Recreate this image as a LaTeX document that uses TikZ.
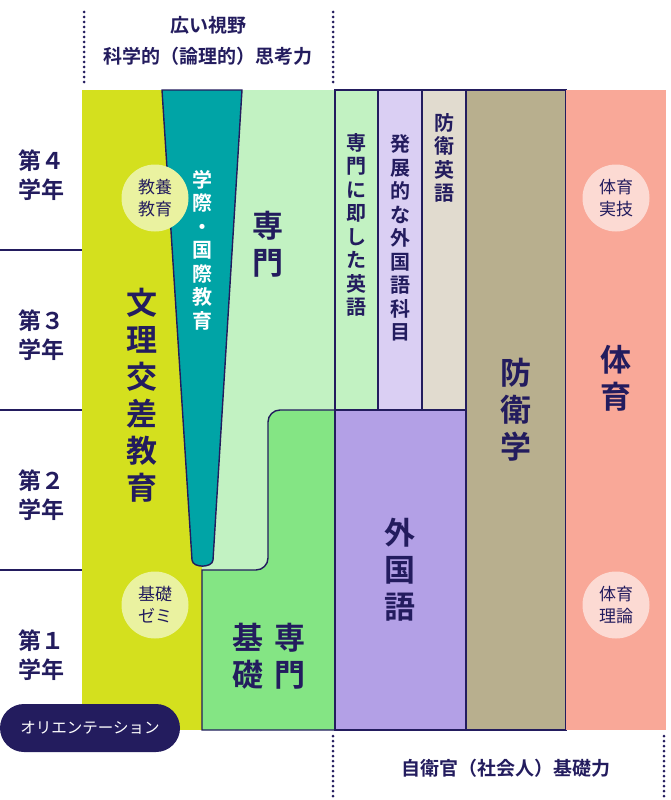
\documentclass[tikz,border=0pt]{standalone}
\usepackage{fontspec}
\setmainfont{Noto Sans CJK JP}[BoldFont={Noto Sans CJK JP Bold}]
\usetikzlibrary{positioning}
\definecolor{navy}{HTML}{231C5E}
\definecolor{lime}{HTML}{D4E01E}
\definecolor{limepale}{HTML}{EAF2A0}
\definecolor{teal}{HTML}{00A4A6}
\definecolor{mint}{HTML}{C2F2C2}
\definecolor{grass}{HTML}{84E584}
\definecolor{lav}{HTML}{DACFF3}
\definecolor{beige}{HTML}{E1DBCF}
\definecolor{violet}{HTML}{B3A0E6}
\definecolor{khaki}{HTML}{B8AF8E}
\definecolor{salmon}{HTML}{F9A898}
\definecolor{pinkpale}{HTML}{FCDAD3}
\begin{document}
\begin{tikzpicture}[x=1pt, y=-1pt,
    line/.style={draw=navy, line width=1.4pt},
    lbl/.style={text=navy, font=\bfseries, align=center, inner sep=0pt},
    big/.style={lbl, font=\fontsize{31}{37}\selectfont\bfseries},
    mid/.style={lbl, font=\fontsize{20}{23.5}\selectfont\bfseries},
    year/.style={lbl, font=\fontsize{23}{29}\selectfont\bfseries},
    badge/.style={circle, minimum size=67pt, inner sep=0pt, text=navy,
        align=center, font=\fontsize{17}{22}\selectfont},
    dots/.style={navy, line width=3pt, line cap=round, dash pattern=on 0pt off 5pt}
]
\useasboundingbox (0,0) rectangle (670,800);

% year rows
\foreach \y in {250,410,570} \draw[line] (0,\y) -- (82,\y);
\node[year] (y4) at (41,175) {第４\\学年};
\node[year] (y3) at (41,335) {第３\\学年};
\node[year] (y2) at (41,495) {第２\\学年};
\node[year] (y1) at (41,655) {第１\\学年};

% left block
\fill[lime] (82,90) rectangle (202,730);
\fill[mint] (202,90) rectangle (335,570);
\filldraw[fill=grass, line] (202,730) -- (202,570) [rounded corners=12] -- (268,570)
    -- (268,410) [sharp corners] -- (335,410) -- (335,730) -- cycle;
\filldraw[fill=teal, line] (162,90) -- (242,90) -- (213,560)
    to[out=-95,in=-85] (192,560) -- cycle;

% columns
\filldraw[fill=mint, line] (335,90) rectangle (378,410);
\filldraw[fill=lav, line] (378,90) rectangle (422,410);
\filldraw[fill=beige, line] (422,90) rectangle (466,410);
\filldraw[fill=violet, line] (335,410) rectangle (466,730);
\filldraw[fill=khaki, line] (466,90) rectangle (566,730);
\fill[salmon] (566,90) rectangle (666,730);

% labels
\node[big] (bunri) at (142,395) {文\\理\\交\\差\\教\\育};
\node[mid, text=white] (gakusai) at (202,250) {学\\際\\・\\国\\際\\教\\育};
\node[big] (senmon) at (268,244) {専\\門};
\node[big] (kiso) at (248,656) {基\\礎};
\node[big] (kisosen) at (290,656) {専\\門};
\node[mid] (eigo) at (356,225) {専\\門\\に\\即\\し\\た\\英\\語};
\node[mid] (hatten) at (400,238) {発\\展\\的\\な\\外\\国\\語\\科\\目};
\node[mid] (bouei) at (444,158) {防\\衛\\英\\語};
\node[big] (gaikoku) at (400,570) {外\\国\\語};
\node[big] (boueigaku) at (516,410) {防\\衛\\学};
\node[big] (taiiku) at (616,378) {体\\育};

\node[badge, fill=limepale] (kyouyou) at (155,198) {教養\\教育};
\node[badge, fill=limepale] (zemi) at (155,605) {基礎\\ゼミ};
\node[badge, fill=pinkpale] (jitsugi) at (616,198) {体育\\実技};
\node[badge, fill=pinkpale] (riron) at (616,605) {体育\\理論};

\node[fill=navy, text=white, rounded corners=24pt, minimum width=180pt,
    minimum height=48pt, font=\fontsize{15.5}{18}\selectfont]
    (orient) at (90,728) {オリエンテーション};

% top and bottom
\draw[dots] (84,12) -- (84,86);
\draw[dots] (333,12) -- (333,86);
\node[lbl, font=\fontsize{19}{31}\selectfont\bfseries] (shiya) at (208,41)
    {広い視野\\科学的（論理的）思考力};
\draw[dots] (333,736) -- (333,796);
\draw[dots] (664,736) -- (664,796);
\node[lbl, font=\fontsize{19}{22}\selectfont\bfseries] (kisoryoku) at (506,768)
    {自衛官（社会人）基礎力};
\end{tikzpicture}
\end{document}
